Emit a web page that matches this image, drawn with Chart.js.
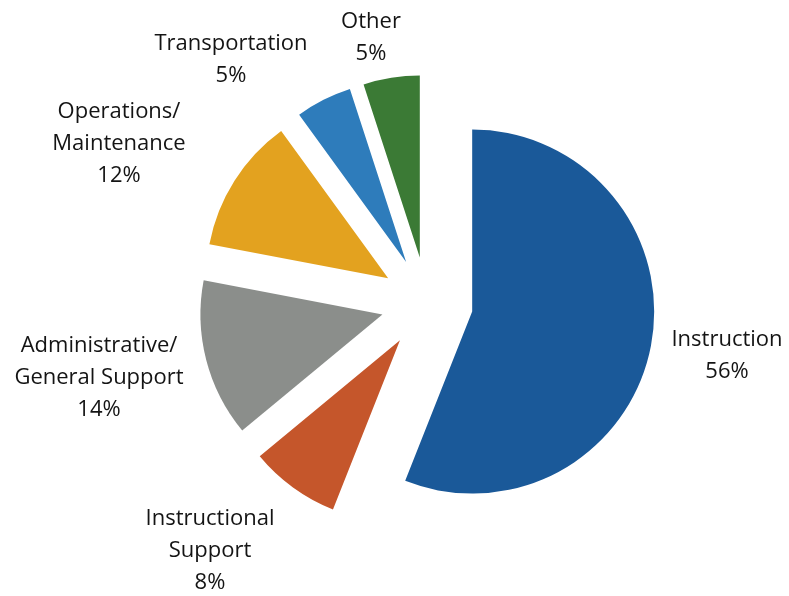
<!DOCTYPE html>
<html>
<head>
<meta charset="utf-8">
<style>
  html, body { margin: 0; padding: 0; background: #fff; }
  canvas { display: block; }
</style>
<script src="https://cdn.jsdelivr.net/npm/chart.js"></script>
</head>
<body>
<canvas id="spendChart" width="789" height="596"></canvas>
<script>
// --------- Data ---------
const categories = [
  "Instruction",
  "Instructional\nSupport",
  "Administrative/\nGeneral Support",
  "Operations/\nMaintenance",
  "Transportation",
  "Other"
];
const shares = [56, 8, 14, 12, 5, 5];
const sliceColors = ["#1a5999", "#c5562b", "#8b8e8b", "#e3a21f", "#2e7cbb", "#3b7a35"];

// label anchors (x of centre, y of first baseline) relative to pie centre
const labelSpots = [
  [300, 43],
  [-217, 222],
  [-328, 49],
  [-308, -185],
  [-196, -253],
  [-56, -275]
];
const lineGap = 32;
const explode = 46; // how far each slice is pulled out

// --------- Exploded slices ---------
// Chart.js' own `offset` also grows the radius, so shift each arc by hand
const explodeSlices = {
  id: "explodeSlices",
  beforeDatasetDraw(chart, args) {
    const ctx = chart.ctx;
    args.meta.data.forEach(arc => {
      const mid = (arc.startAngle + arc.endAngle) / 2;
      ctx.save();
      ctx.translate(Math.cos(mid) * explode, Math.sin(mid) * explode);
      arc.draw(ctx);
      ctx.restore();
    });
    return false;
  }
};

// --------- Label plugin ---------
const outsideLabels = {
  id: "outsideLabels",
  afterDatasetsDraw(chart) {
    const ctx = chart.ctx;
    const meta = chart.getDatasetMeta(0);
    ctx.save();
    ctx.font = "22px 'Open Sans'";
    ctx.fillStyle = "#141414";
    ctx.textAlign = "center";
    ctx.textBaseline = "alphabetic";
    meta.data.forEach((arc, i) => {
      const lines = categories[i].split("\n").concat(shares[i] + "%");
      const [dx, dy] = labelSpots[i];
      lines.forEach((line, k) => {
        ctx.fillText(line, arc.x + dx, arc.y + dy + k * lineGap);
      });
    });
    ctx.restore();
  }
};

// --------- Chart ---------
new Chart(document.getElementById("spendChart"), {
  type: "pie",
  data: {
    labels: categories,
    datasets: [{
      data: shares,
      backgroundColor: sliceColors,
      borderWidth: 0,
      clip: false
    }]
  },
  options: {
    responsive: false,
    animation: false,
    radius: 182,
    layout: { padding: { left: 65, top: 10, right: 0, bottom: 0 } },
    plugins: {
      legend: { display: false },
      tooltip: { enabled: false }
    }
  },
  plugins: [explodeSlices, outsideLabels]
});
</script>
</body>
</html>
